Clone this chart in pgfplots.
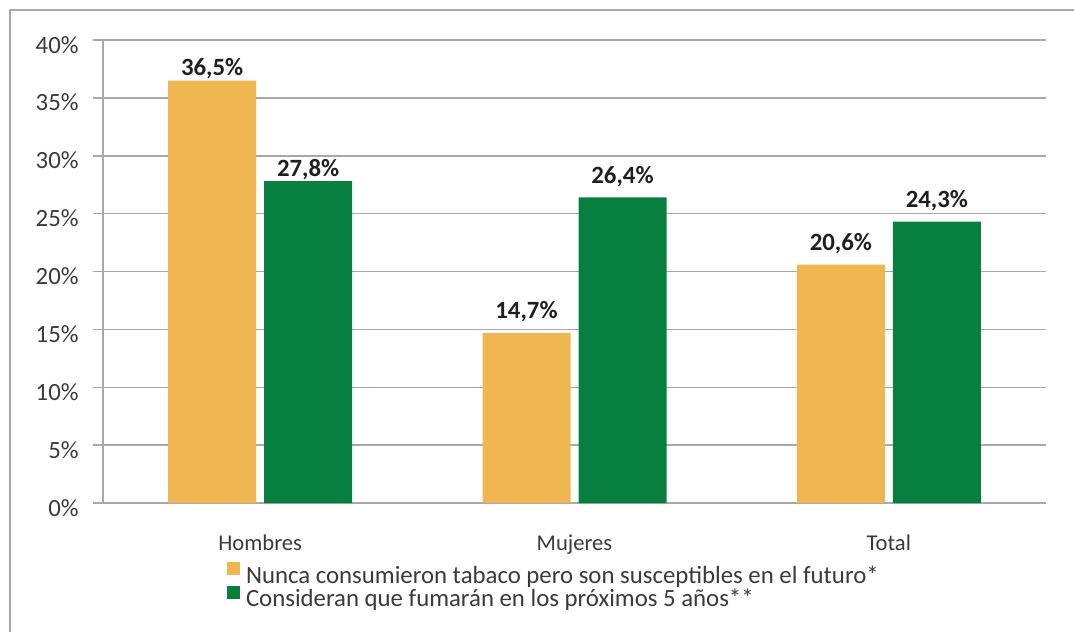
\documentclass[border=0pt]{standalone}
\usepackage{pgfplots}
\pgfplotsset{compat=1.18}
\usepackage{fontspec}
\setmainfont{Carlito}
\definecolor{barorange}{HTML}{F0B652}
\definecolor{bargreen}{HTML}{07803F}
\definecolor{gridgray}{HTML}{A8A8A8}
\definecolor{txt}{HTML}{3A3A3A}
\begin{document}
\begin{tikzpicture}
\path[use as bounding box] (0,0) rectangle (537pt,-316pt);
\draw[gridgray, line width=0.9pt] (5pt,-316pt) -- (5pt,-5pt) -- (537pt,-5pt);
\begin{axis}[
  at={(51.5pt,-251.5pt)}, anchor=south west,
  scale only axis, width=471.5pt, height=231.5pt,
  /pgf/number format/assume math mode=true,
  ybar=4pt, bar width=44pt,
  xmin=-0.5, xmax=2.5, ymin=0, ymax=40,
  xtick={0,1,2}, xticklabels={Hombres,Mujeres,Total},
  ytick={0,5,...,40},
  yticklabel={\pgfmathprintnumber{\tick}\%},
  axis x line*=bottom, axis y line*=left,
  axis line style={draw=gridgray, line width=0.75pt},
  ymajorgrids, grid style={draw=gridgray, line width=0.75pt},
  tick align=outside, major tick length=5pt,
  xtick style={draw=none},
  ytick style={draw=gridgray, line width=0.75pt},
  xticklabel style={font=\fontsize{11.3}{13}\selectfont, text=txt, anchor=base, inner sep=0pt, yshift=-18.5pt},
  yticklabel style={font=\fontsize{12.4}{14}\selectfont, text=txt, anchor=base east, inner sep=0pt, yshift=-6.5pt, xshift=-7pt},
  visualization depends on={x \as \xval},
  nodes near coords={\pgfmathprintnumber[fixed,fixed zerofill,precision=1,use comma]{\pgfplotspointmeta}\%},
  nodes near coords style={font=\fontsize{12.4}{14}\selectfont\bfseries, text=black!88, anchor=base, inner sep=0pt,
    yshift={ifthenelse(\xval<0.5,2.5,7)*1pt}},
  legend style={at={(0.1315,-0.1277)}, anchor=north west, draw=none, fill=none,
    inner sep=0pt, outer sep=0pt, row sep=-0.75pt, column sep=3pt,
    font=\fontsize{12.4}{14}\selectfont, text=txt,
    nodes={inner sep=0pt, text height=7pt, text depth=2pt}},
  legend cell align=left,
  legend image code/.code={\fill[#1] (0pt,1.5pt) rectangle (6.5pt,8pt);},
]
\addplot[fill=barorange, draw=none] coordinates {(0,36.5) (1,14.7) (2,20.6)};
\addplot[fill=bargreen, draw=none] coordinates {(0,27.8) (1,26.4) (2,24.3)};
\legend{Nunca consumieron tabaco pero son susceptibles en el futuro*,
        Consideran que fumarán en los próximos 5 años**}
\end{axis}
\end{tikzpicture}
\end{document}
